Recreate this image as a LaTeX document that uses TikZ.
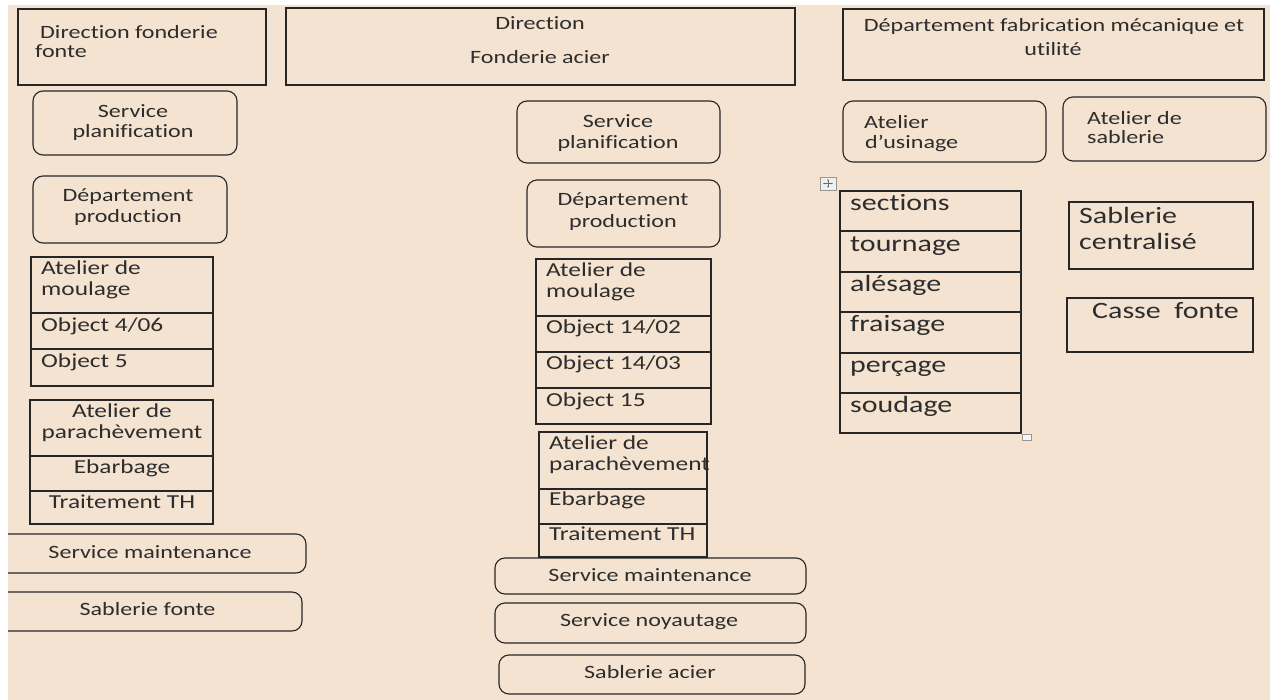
\documentclass[tikz,border=0pt]{standalone}
\usepackage{fontspec}
\setmainfont{Carlito}[FakeStretch=1.28, Ligatures={NoCommon}]
\usetikzlibrary{arrows.meta}
\definecolor{bgc}{RGB}{244,227,208}
\definecolor{linec}{RGB}{38,38,38}
\definecolor{textc}{RGB}{45,45,45}
\definecolor{handc}{RGB}{150,150,150}
\newcommand{\fnorm}{\fontsize{18.8}{22}\selectfont}
\newcommand{\ftab}{\fontsize{19.8}{23}\selectfont}
\newcommand{\fbig}{\fontsize{23.4}{27}\selectfont}
\tikzset{
  box/.style={draw=linec, line width=1.1pt, inner sep=0pt, outer sep=0pt, rectangle},
  rbox/.style={box, rounded corners=10pt},
  tn/.style={inner sep=0pt, text=textc, font=\fnorm, anchor=base, yshift=-1.8pt},
  tnl/.style={tn, anchor=base west},
  tt/.style={tn, font=\ftab},
  ttl/.style={tnl, font=\ftab},
  tbl/.style={tnl, font=\fbig},
}
\begin{document}
\begin{tikzpicture}[x=1pt,y=-1pt]
\useasboundingbox (0,0) rectangle (1270,700);
\fill[bgc] (0,0) rectangle (1270,700);

% ---------- top boxes ----------
\node[box, minimum width=248pt, minimum height=76pt] (dff) at (142,47) {};
\node[tnl] (dff1) at (40,37) {Direction fonderie};
\node[tnl] (dff2) at (35,56) {fonte};

\node[box, minimum width=509pt, minimum height=77pt] (dfa) at (540.5,46.5) {};
\node[tn] (dfa1) at (540,28) {Direction};
\node[tn] (dfa2) at (540,62) {Fonderie acier};

\node[box, minimum width=421pt, minimum height=71pt] (dfm) at (1053.5,44.5) {};
\node[tn] (dfm1) at (1054,30) {Département fabrication mécanique et};
\node[tn] (dfm2) at (1053,54) {utilité};

% ---------- left column ----------
\node[rbox, minimum width=204pt, minimum height=64pt] (lsp) at (135,123) {};
\node[tn] (lsp1) at (133,116) {Service};
\node[tn] (lsp2) at (133,136) {planification};

\node[rbox, minimum width=194pt, minimum height=67pt] (ldp) at (130,209.5) {};
\node[tn] (ldp1) at (128,200) {Département};
\node[tn] (ldp2) at (128,221) {production};

\node[box, minimum width=182pt, minimum height=56pt] (lm1) at (122,285) {};
\node[box, minimum width=182pt, minimum height=36pt] (lm2) at (122,331) {};
\node[box, minimum width=182pt, minimum height=37pt] (lm3) at (122,367.5) {};
\node[ttl] (lm1a) at (41,273) {Atelier de};
\node[ttl] (lm1b) at (41,294) {moulage};
\node[ttl] (lm2a) at (41,330) {Object 4/06};
\node[ttl] (lm3a) at (41,366) {Object 5};

\node[box, minimum width=183pt, minimum height=56pt] (lp1) at (121.5,428) {};
\node[box, minimum width=183pt, minimum height=35pt] (lp2) at (121.5,473.5) {};
\node[box, minimum width=183pt, minimum height=33pt] (lp3) at (121.5,507.5) {};
\node[tt] (lp1a) at (122,416) {Atelier de};
\node[tt] (lp1b) at (122,437) {parachèvement};
\node[tt] (lp2a) at (122,472) {Ebarbage};
\node[tt] (lp3a) at (122,507) {Traitement TH};

\node[rbox, minimum width=312pt, minimum height=39pt] (lsm) at (150,553.5) {};
\node[tn] (lsm1) at (150,557) {Service maintenance};
\node[rbox, minimum width=309pt, minimum height=39pt] (lsf) at (147.5,611.5) {};
\node[tn] (lsf1) at (147.5,614) {Sablerie fonte};

% ---------- middle column ----------
\node[rbox, minimum width=203pt, minimum height=62pt] (msp) at (618.5,132) {};
\node[tn] (msp1) at (618,126) {Service};
\node[tn] (msp2) at (618,147) {planification};

\node[rbox, minimum width=193pt, minimum height=67pt] (mdp) at (623.5,213.5) {};
\node[tn] (mdp1) at (623,204) {Département};
\node[tn] (mdp2) at (623,226) {production};

\node[box, minimum width=175pt, minimum height=57pt] (mm1) at (623.5,287.5) {};
\node[box, minimum width=175pt, minimum height=36pt] (mm2) at (623.5,334) {};
\node[box, minimum width=175pt, minimum height=36pt] (mm3) at (623.5,370) {};
\node[box, minimum width=175pt, minimum height=36pt] (mm4) at (623.5,406) {};
\node[ttl] (mm1a) at (546,275) {Atelier de};
\node[ttl] (mm1b) at (546,296) {moulage};
\node[ttl] (mm2a) at (546,332) {Object 14/02};
\node[ttl] (mm3a) at (546,368) {Object 14/03};
\node[ttl] (mm4a) at (546,405) {Object 15};

\node[box, minimum width=168pt, minimum height=57pt] (mp1) at (623,460.5) {};
\node[box, minimum width=168pt, minimum height=35pt] (mp2) at (623,506.5) {};
\node[box, minimum width=168pt, minimum height=33pt] (mp3) at (623,540.5) {};
\node[ttl] (mp1a) at (549,448) {Atelier de};
\node[ttl] (mp1b) at (549,469) {parachèvement};
\node[ttl] (mp2a) at (549,504) {Ebarbage};
\node[ttl] (mp3a) at (549,539) {Traitement TH};

\node[rbox, minimum width=311pt, minimum height=36pt] (msm) at (650.5,576) {};
\node[tn] (msm1) at (650,580) {Service maintenance};
\node[rbox, minimum width=311pt, minimum height=40pt] (msn) at (650.5,623) {};
\node[tn] (msn1) at (649,625) {Service noyautage};
\node[rbox, minimum width=306pt, minimum height=39pt] (msa) at (652,674.5) {};
\node[tn] (msa1) at (650,677) {Sablerie acier};

% ---------- right column ----------
\node[rbox, minimum width=203pt, minimum height=61pt] (rau) at (944.5,131.5) {};
\node[tnl] (rau1) at (864,127) {Atelier};
\node[tnl] (rau2) at (865,147) {d’usinage};
\node[rbox, minimum width=203pt, minimum height=64pt] (ras) at (1164.5,129) {};
\node[tnl] (ras1) at (1087,123) {Atelier de};
\node[tnl] (ras2) at (1087,142) {sablerie};

\node[box, minimum width=181pt, minimum height=40pt] (rt1) at (930.5,211) {};
\node[box, minimum width=181pt, minimum height=41pt] (rt2) at (930.5,251.5) {};
\node[box, minimum width=181pt, minimum height=40pt] (rt3) at (930.5,292) {};
\node[box, minimum width=181pt, minimum height=41pt] (rt4) at (930.5,332.5) {};
\node[box, minimum width=181pt, minimum height=40pt] (rt5) at (930.5,373) {};
\node[box, minimum width=181pt, minimum height=40pt] (rt6) at (930.5,413) {};
\node[tbl] (rt1a) at (850,209) {sections};
\node[tbl] (rt2a) at (850,250) {tournage};
\node[tbl] (rt3a) at (850,290) {alésage};
\node[tbl] (rt4a) at (850,330) {fraisage};
\node[tbl] (rt5a) at (850,371) {perçage};
\node[tbl] (rt6a) at (850,411) {soudage};

\node[box, minimum width=184pt, minimum height=67pt] (rsc) at (1161,235.5) {};
\node[tbl] (rsc1) at (1079,222) {Sablerie};
\node[tbl] (rsc2) at (1079,248) {centralisé};
\node[box, minimum width=186pt, minimum height=54pt] (rcf) at (1160,325) {};
\node[tbl] (rcf1) at (1092,317) {Casse~~fonte};

% table handles
\node[draw=handc, fill=gray!12, line width=0.8pt, minimum width=16pt, minimum height=13pt, inner sep=0pt] (mv) at (828,183.5) {};
\draw[handc!70!black, line width=0.6pt, {Stealth[length=2pt]}-{Stealth[length=2pt]}] (823,183.5) -- (833,183.5);
\draw[handc!70!black, line width=0.6pt, {Stealth[length=2pt]}-{Stealth[length=2pt]}] (828,179) -- (828,188);
\node[draw=handc, fill=gray!8, line width=0.9pt, minimum width=9pt, minimum height=6pt, inner sep=0pt] (rs) at (1026.5,437) {};

% white margins
\fill[white] (0,0) rectangle (1270,5.5);
\fill[white] (0,0) rectangle (7.5,700);
\end{tikzpicture}
\end{document}
